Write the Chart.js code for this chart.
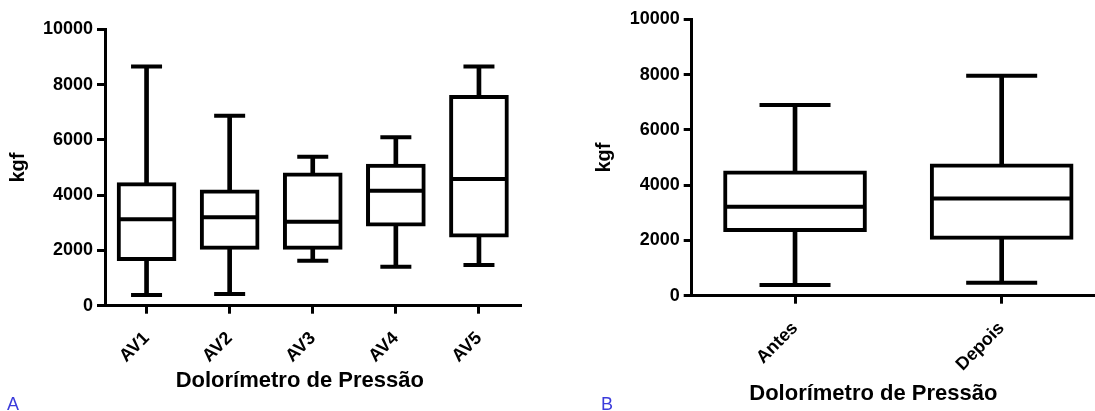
<!DOCTYPE html>
<html>
<head>
<meta charset="utf-8">
<script src="https://cdn.jsdelivr.net/npm/chart.js@4.4.1/dist/chart.umd.min.js"></script>
<style>
    html, body { margin: 0; padding: 0; background: #fff; overflow: hidden; width: 1095px; height: 411px; }
    .panel { position: absolute; top: 0; height: 411px; }
    #panelA { left: 0; width: 560px; }
    #panelB { left: 560px; width: 550px; }
    .tag { position: absolute; font: 18px "Liberation Sans", Arial, sans-serif; color: #3b3bdb; line-height: 18px; }
</style>
</head>
<body>
<div class="panel" id="panelA"><canvas id="chartA" width="560" height="411"></canvas></div>
<div class="panel" id="panelB"><canvas id="chartB" width="550" height="411"></canvas></div>
<div class="tag" style="left:7px; top:395px;">A</div>
<div class="tag" style="left:601px; top:395px;">B</div>
<script>
const FONT = '"Liberation Sans", Arial, Helvetica, sans-serif';

// Panel A - five evaluations
const labelsA = ['AV1', 'AV2', 'AV3', 'AV4', 'AV5'];
const minA = [390, 420, 1630, 1410, 1470];
const q1A = [1630, 2040, 2040, 2880, 2480];
const medA = [3130, 3200, 3040, 4160, 4580];
const q3A = [4450, 4190, 4810, 5120, 7610];
const maxA = [8650, 6870, 5390, 6090, 8650];

// Panel B - before / after
const labelsB = ['Antes', 'Depois'];
const minB = [390, 470];
const q1B = [2320, 2040];
const medB = [3220, 3520];
const q3B = [4520, 4770];
const maxB = [6900, 7960];

const yTicks = [0, 2000, 4000, 6000, 8000, 10000];
const yTitle = 'kgf';
const xTitle = 'Dolorímetro de Pressão';

// axis title under the x axis, centred a bit left of the plot like the original
const xTitlePlugin = {
    id: 'xTitle',
    afterDraw: function(chart, args, opts) {
        const area = chart.chartArea;
        const ctx = chart.ctx;
        ctx.save();
        ctx.font = 'bold 22px ' + FONT;
        ctx.fillStyle = '#000';
        ctx.textAlign = 'center';
        ctx.textBaseline = 'alphabetic';
        ctx.fillText(opts.text, (area.left + area.right) / 2 + opts.shift, opts.baseline);
        ctx.restore();
    }
};

function pointLine(data, radius) {
    return {
        type: 'line',
        data: data,
        order: 1,
        showLine: false,
        pointStyle: 'line',
        pointRadius: radius,
        pointHoverRadius: radius,
        pointBorderWidth: 4,
        pointHoverBorderWidth: 4,
        pointBorderColor: '#000',
        pointBackgroundColor: '#000'
    };
}

function boxDatasets(mins, q1s, meds, q3s, maxs, boxWidth, capWidth) {
    return [
        pointLine(meds, boxWidth / 2 - 2),
        pointLine(maxs, capWidth / 2),
        pointLine(mins, capWidth / 2),
        {
            type: 'bar',
            data: q1s.map((q, i) => [q, q3s[i]]),
            order: 2,
            grouped: false,
            barThickness: boxWidth,
            backgroundColor: '#fff',
            borderColor: '#000',
            borderWidth: 4,
            borderSkipped: false
        },
        {
            type: 'bar',
            data: mins.map((m, i) => [m, maxs[i]]),
            order: 3,
            grouped: false,
            barThickness: 4,
            backgroundColor: '#000',
            borderWidth: 0
        }
    ];
}

function makeScales(yWidth, xHeight, yTitlePad) {
    const tickFont = { family: FONT, size: 18, weight: 'bold' };
    const grid = {
        display: true,
        offset: false,
        drawOnChartArea: false,
        drawTicks: true,
        tickLength: 8,
        tickWidth: 3,
        lineWidth: 3,
        color: '#000'
    };
    const border = { display: true, color: '#000', width: 3 };
    return {
        x: {
            type: 'category',
            offset: true,
            grid: grid,
            border: border,
            ticks: {
                color: '#000',
                font: tickFont,
                maxRotation: 45,
                minRotation: 45,
                autoSkip: false,
                padding: 14
            },
            afterFit: function(s) {
                s.height = xHeight;
                s.paddingLeft = 0;
                s.paddingRight = 0;
            }
        },
        y: {
            min: 0,
            max: 10000,
            afterBuildTicks: function(s) {
                s.ticks = yTicks.map(v => ({ value: v }));
            },
            grid: grid,
            border: border,
            ticks: {
                color: '#000',
                font: tickFont,
                padding: 4,
                callback: v => String(v)
            },
            title: {
                display: true,
                text: yTitle,
                color: '#000',
                font: { family: FONT, size: 20, weight: 'bold' },
                padding: { top: yTitlePad, bottom: 0 }
            },
            afterFit: function(s) {
                s.width = yWidth;
                s.paddingTop = 0;
                s.paddingBottom = 0;
            }
        }
    };
}

function makeChart(canvasId, labels, datasets, opts) {
    return new Chart(document.getElementById(canvasId), {
        type: 'bar',
        data: { labels: labels, datasets: datasets },
        plugins: [xTitlePlugin],
        options: {
            responsive: false,
            animation: false,
            events: [],
            layout: { autoPadding: false, padding: opts.padding },
            scales: makeScales(opts.yWidth, opts.xHeight, opts.yTitlePad),
            plugins: {
                legend: { display: false },
                tooltip: { enabled: false },
                xTitle: { text: xTitle, shift: opts.titleShift, baseline: opts.titleBaseline }
            }
        }
    });
}

makeChart('chartA', labelsA, boxDatasets(minA, q1A, medA, q3A, maxA, 59, 31), {
    padding: { top: 29.3, right: 39.5, bottom: 0, left: 0 },
    yWidth: 105,
    xHeight: 105.3,
    yTitlePad: 6,
    titleShift: -13,
    titleBaseline: 387
});

makeChart('chartB', labelsB, boxDatasets(minB, q1B, medB, q3B, maxB, 143, 71), {
    padding: { top: 19.3, right: 5, bottom: 0, left: 0 },
    yWidth: 131.7,
    xHeight: 115.3,
    yTitlePad: 32,
    titleShift: -25,
    titleBaseline: 400
});
</script>
</body>
</html>
